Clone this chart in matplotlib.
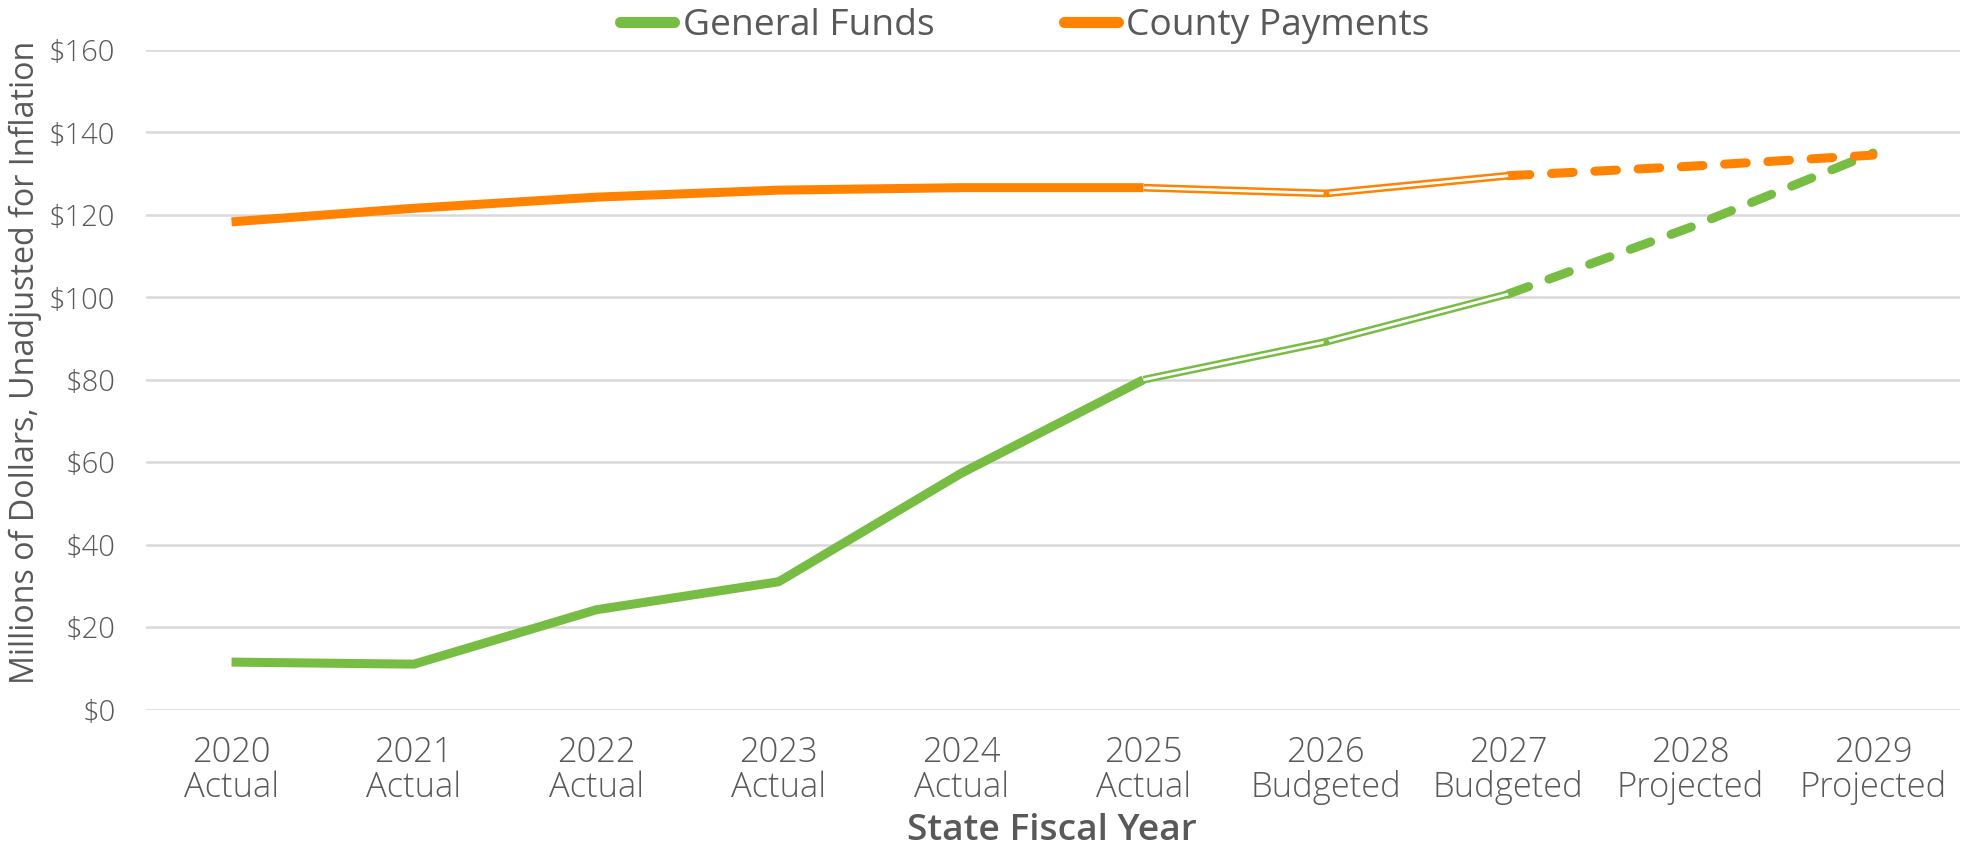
import matplotlib
matplotlib.use("Agg")
import matplotlib.pyplot as plt
from matplotlib.lines import Line2D

years = ["2020", "2021", "2022", "2023", "2024", "2025", "2026", "2027", "2028", "2029"]
stages = ["Actual", "Actual", "Actual", "Actual", "Actual", "Actual",
          "Budgeted", "Budgeted", "Projected", "Projected"]
general_funds = [11.5, 11.0, 24.2, 31.0, 57.3, 80.0, 89.2, 100.8, 117.0, 135.0]
county_payments = [118.3, 121.6, 124.3, 126.0, 126.6, 126.6, 125.2, 129.5, 131.8, 134.5]

GREEN = "#77bc43"
ORANGE = "#ff8300"
TEXT = "#595959"
GRID = "#d9d9d9"

plt.rcParams['font.family'] = ['Open Sans', 'DejaVu Sans']

W, H = 1962, 850
fig = plt.figure(figsize=(W / 100, H / 100), dpi=100)
ax_left, ax_right, ax_bottom, ax_top = 146, 1960, 709.5, 50
ax = fig.add_axes([ax_left / W, 1 - ax_bottom / H, (ax_right - ax_left) / W, (ax_bottom - ax_top) / H])

LW = 6.5
HLW = 5.6
x = list(range(len(years)))
actual_end = 5
budget_end = 7

for vals, col, z in [(general_funds, GREEN, 3), (county_payments, ORANGE, 4)]:
    # actual: solid
    ax.plot(x[:actual_end + 1], vals[:actual_end + 1], color=col, lw=LW,
            solid_capstyle="butt", solid_joinstyle="round", zorder=z)
    # budgeted: hollow double line, segment by segment
    for i in range(actual_end, budget_end):
        ax.plot(x[i:i + 2], vals[i:i + 2], color=col, lw=HLW,
                solid_capstyle="butt", zorder=z)
        ax.plot(x[i:i + 2], vals[i:i + 2], color="white", lw=2.0,
                solid_capstyle="butt", zorder=z + 0.1)
    for i in range(actual_end + 1, budget_end):
        ax.plot([x[i]], [vals[i]], marker="o", ms=HLW * 0.6, color=col,
                mec=col, zorder=z + 0.2, lw=0)
    # projected: dashed
    ax.plot(x[budget_end:], vals[budget_end:], color=col, lw=LW,
            dashes=(2.4, 2.4), dash_capstyle="round", zorder=z)

ax.set_xlim(-0.469, 9.477)
ax.set_ylim(0, 160)
ax.set_yticks(range(0, 161, 20))
ax.set_yticklabels([f"${v}" for v in range(0, 161, 20)])
ax.set_xticks(x)
ax.set_xticklabels([f"{y}\n{s}" for y, s in zip(years, stages)], linespacing=1.0)
ax.grid(axis="y", color=GRID, lw=1.8)
ax.set_axisbelow(True)
for sp in ax.spines.values():
    sp.set_visible(False)
ax.tick_params(axis="both", length=0, colors=TEXT)
ax.tick_params(axis="y", labelsize=21, pad=22)
ax.tick_params(axis="x", labelsize=24.8, pad=19)
for lab in ax.get_xticklabels() + ax.get_yticklabels():
    lab.set_fontweight("light")

fig.text(1052 / W, 1 / H, "State Fiscal Year", fontsize=26.8, color=TEXT,
         fontweight="semibold", ha="center", va="bottom")
fig.text(25 / W, 1 - 362 / H, "Millions of Dollars, Unadjusted for Inflation",
         fontsize=23.2, color=TEXT, rotation=90, ha="center", va="center")

handles = [Line2D([], [], color=GREEN, lw=8, solid_capstyle="round"),
           Line2D([], [], color=ORANGE, lw=8, solid_capstyle="round")]
fig.legend(handles, ["General Funds", "County Payments"], loc="upper center",
           bbox_to_anchor=(1025 / W, 1.0 - 8 / H), ncol=2, frameon=False, borderaxespad=0.0,
           borderpad=0.0, fontsize=26.7, labelcolor=TEXT, handlelength=1.46,
           handletextpad=0.22, columnspacing=3.5)

fig.savefig("out.png", dpi=100)
